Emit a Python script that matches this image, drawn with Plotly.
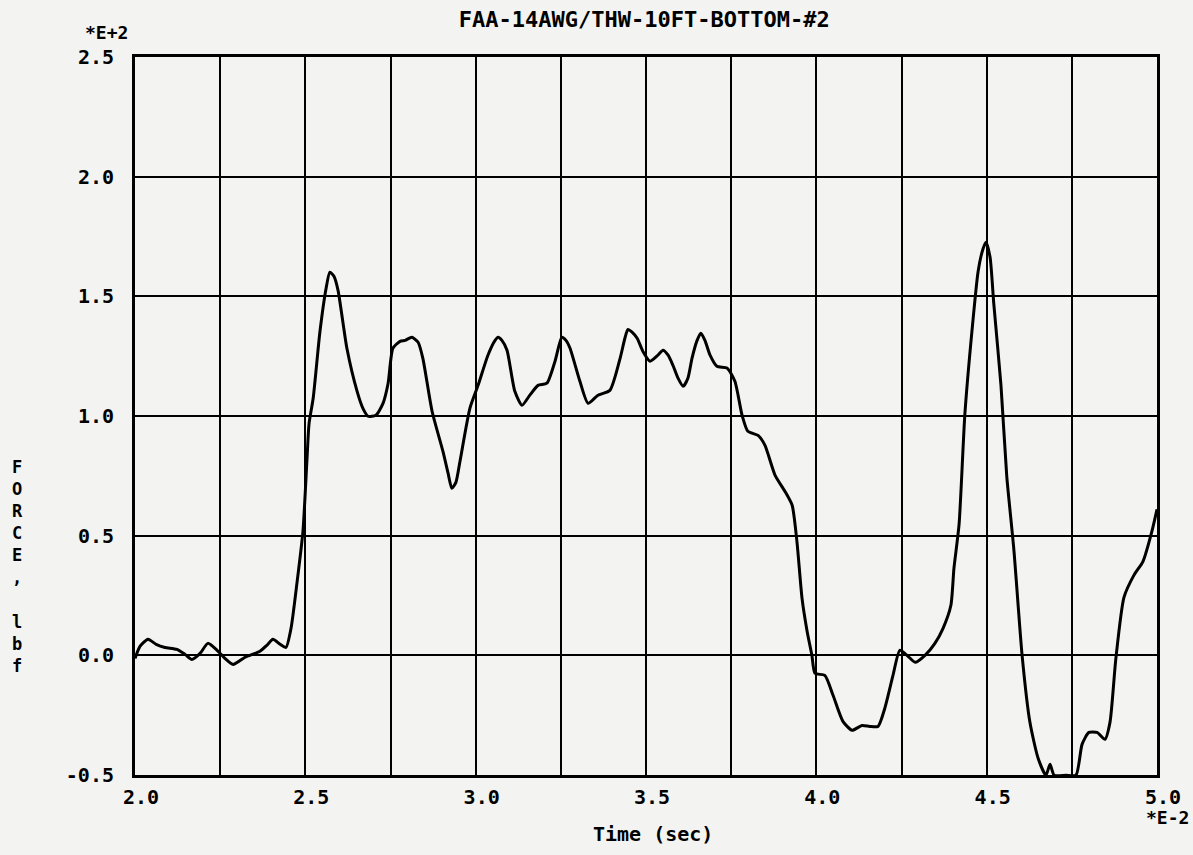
import plotly.graph_objects as go

# Time in units of 1E-2 s, force in units of 1E+2 lbf
time_e2 = [2.000, 2.015, 2.038, 2.062, 2.088, 2.123, 2.147, 2.167, 2.191, 2.214,
           2.241, 2.264, 2.288, 2.323, 2.367, 2.387, 2.405, 2.426, 2.443, 2.458,
           2.476, 2.493, 2.505, 2.511, 2.523, 2.543, 2.561, 2.572, 2.584, 2.596,
           2.622, 2.652, 2.669, 2.684, 2.707, 2.728, 2.743, 2.757, 2.778, 2.793,
           2.813, 2.831, 2.845, 2.872, 2.904, 2.919, 2.930, 2.942, 2.954, 2.983,
           3.007, 3.036, 3.057, 3.066, 3.077, 3.092, 3.115, 3.136, 3.159, 3.183,
           3.209, 3.233, 3.253, 3.265, 3.277, 3.306, 3.330, 3.359, 3.394, 3.424,
           3.438, 3.447, 3.459, 3.474, 3.491, 3.512, 3.535, 3.550, 3.565, 3.579,
           3.594, 3.609, 3.623, 3.635, 3.650, 3.661, 3.673, 3.688, 3.708, 3.738,
           3.761, 3.782, 3.799, 3.829, 3.849, 3.879, 3.908, 3.929, 3.943, 3.958,
           3.973, 3.987, 3.996, 4.025, 4.049, 4.078, 4.105, 4.134, 4.157, 4.181,
           4.201, 4.225, 4.245, 4.266, 4.290, 4.319, 4.348, 4.372, 4.395, 4.404,
           4.419, 4.436, 4.457, 4.475, 4.489, 4.498, 4.510, 4.521, 4.542, 4.559,
           4.580, 4.604, 4.627, 4.651, 4.674, 4.686, 4.698, 4.733, 4.762, 4.780,
           4.800, 4.824, 4.847, 4.862, 4.879, 4.903, 4.932, 4.959, 4.985, 5.000]

force_e2 = [-0.013, 0.038, 0.067, 0.046, 0.033, 0.025, 0.004, -0.017, 0.008, 0.050,
            0.021, -0.013, -0.038, -0.008, 0.017, 0.042, 0.067, 0.046, 0.033, 0.113,
            0.309, 0.518, 0.823, 0.969, 1.074, 1.354, 1.534, 1.601, 1.584, 1.525,
            1.283, 1.103, 1.032, 0.999, 1.003, 1.053, 1.137, 1.283, 1.312, 1.316,
            1.329, 1.308, 1.241, 1.020, 0.852, 0.761, 0.698, 0.723, 0.811, 1.032,
            1.128, 1.254, 1.316, 1.329, 1.316, 1.275, 1.103, 1.045, 1.087, 1.128,
            1.137, 1.229, 1.329, 1.316, 1.283, 1.145, 1.053, 1.087, 1.107, 1.241,
            1.325, 1.362, 1.350, 1.325, 1.270, 1.229, 1.254, 1.275, 1.254, 1.212,
            1.158, 1.124, 1.158, 1.241, 1.316, 1.346, 1.316, 1.254, 1.208, 1.200,
            1.145, 1.003, 0.936, 0.919, 0.878, 0.752, 0.685, 0.627, 0.476, 0.238,
            0.100, 0.000, -0.075, -0.084, -0.167, -0.276, -0.313, -0.293, -0.297, -0.297,
            -0.221, -0.084, 0.021, 0.000, -0.029, 0.000, 0.050, 0.113, 0.209, 0.364,
            0.547, 1.007, 1.358, 1.605, 1.697, 1.726, 1.663, 1.467, 1.128, 0.748,
            0.439, 0.000, -0.280, -0.430, -0.501, -0.455, -0.501, -0.501, -0.501, -0.372,
            -0.322, -0.322, -0.351, -0.280, -0.017, 0.242, 0.334, 0.393, 0.518, 0.610]

x_tickvals = [2.0, 2.25, 2.5, 2.75, 3.0, 3.25, 3.5, 3.75, 4.0, 4.25, 4.5, 4.75, 5.0]
x_ticktext = ["2.0", "", "2.5", "", "3.0", "", "3.5", "", "4.0", "", "4.5", "", "5.0"]
y_tickvals = [-0.5, 0.0, 0.5, 1.0, 1.5, 2.0, 2.5]
y_ticktext = ["-0.5", "0.0", "0.5", "1.0", "1.5", "2.0", "2.5"]

title_text = "FAA-14AWG/THW-10FT-BOTTOM-#2"
x_title = "Time (sec)"
y_title_chars = ["F", "O", "R", "C", "E", ",", "\u00a0", "l", "b", "f"]

FONT = "DejaVu Sans Mono"
BG = "#f3f3f1"

fig = go.Figure()
fig.add_trace(go.Scatter(
    x=time_e2, y=force_e2, mode="lines",
    line=dict(color="black", width=3, shape="spline", smoothing=0.6),
    showlegend=False, hoverinfo="skip",
))

fig.update_layout(
    width=1193, height=855,
    margin=dict(l=135, r=36, t=57, b=80),
    paper_bgcolor=BG, plot_bgcolor=BG,
    font=dict(family=FONT, color="black", size=18),
    title=dict(text=title_text, x=0.54, xanchor="center", y=0.978, yanchor="middle",
               font=dict(family=FONT, size=22, color="black", weight="bold")),
    xaxis=dict(
        range=[2.0, 5.0], tickvals=x_tickvals, ticktext=x_ticktext,
        showgrid=True, gridcolor="black", gridwidth=2,
        showline=True, linecolor="black", linewidth=3, mirror=True,
        ticks="", ticklabelstandoff=2, ticklabelshift=6, zeroline=False,
        tickfont=dict(family=FONT, size=20, color="black", weight="bold"),
    ),
    yaxis=dict(
        range=[-0.5, 2.5], tickvals=y_tickvals, ticktext=y_ticktext,
        showgrid=True, gridcolor="black", gridwidth=2,
        showline=True, linecolor="black", linewidth=3, mirror=True,
        ticks="", ticklabelstandoff=14, zeroline=False,
        tickfont=dict(family=FONT, size=20, color="black", weight="bold"),
    ),
)

# x-axis title placed where the reference has it (slightly left of centre)
fig.add_annotation(text=x_title, xref="x", yref="paper", x=3.52, y=0.0,
                   xanchor="center", yanchor="top", yshift=-45, showarrow=False,
                   font=dict(family=FONT, size=20, color="black", weight="bold"))
# stacked y-axis title
fig.add_annotation(text="<br>".join(y_title_chars), xref="paper", yref="paper",
                   x=-0.115, y=0.29, xanchor="center", yanchor="middle", showarrow=False,
                   font=dict(family=FONT, size=17, color="black", weight="bold"), align="center")
# exponent markers
fig.add_annotation(text="*E+2", xref="paper", yref="paper", x=-0.005, y=1.0,
                   xanchor="right", yanchor="bottom", yshift=12, showarrow=False,
                   font=dict(family=FONT, size=18, color="black", weight="bold"))
fig.add_annotation(text="*E-2", xref="paper", yref="paper", x=1.033, y=0.0,
                   xanchor="right", yanchor="top", yshift=-30, showarrow=False,
                   font=dict(family=FONT, size=18, color="black", weight="bold"))

fig.write_html("out.html")
